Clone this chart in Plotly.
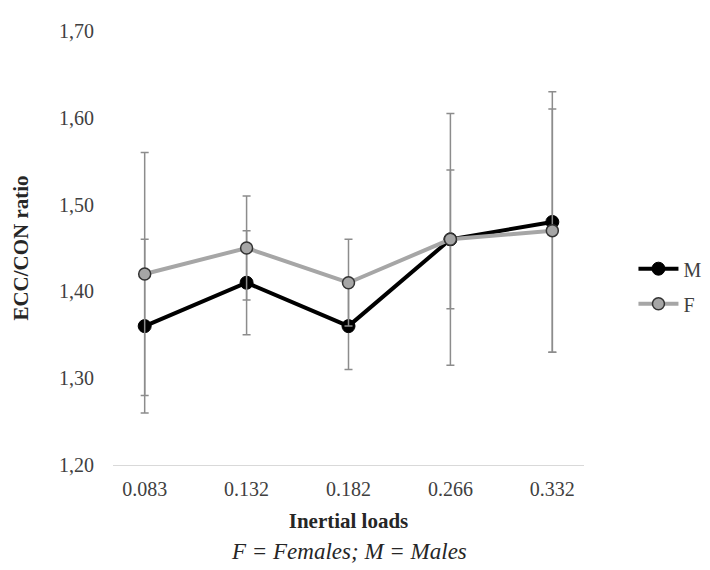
import plotly.graph_objects as go

categories = ["0.083", "0.132", "0.182", "0.266", "0.332"]
male_values = [1.36, 1.41, 1.36, 1.46, 1.48]
male_errors = [0.10, 0.06, 0.05, 0.08, 0.15]
female_values = [1.42, 1.45, 1.41, 1.46, 1.47]
female_errors = [0.14, 0.06, 0.05, 0.145, 0.14]
y_ticks = [1.20, 1.30, 1.40, 1.50, 1.60, 1.70]

SERIF = "Liberation Serif, Times New Roman, serif"
ERR_COLOR = "#8c8c8c"

fig = go.Figure()
fig.add_trace(go.Scatter(
    x=categories, y=male_values, name="M", mode="lines+markers",
    line=dict(color="#000000", width=4),
    marker=dict(size=13, color="#000000", line=dict(color="#000000", width=1)),
    error_y=dict(type="data", array=male_errors, visible=True,
                 color=ERR_COLOR, thickness=1.5, width=4),
    legendgroup="m",
))
fig.add_trace(go.Scatter(
    x=categories, y=female_values, name="F", mode="lines+markers",
    line=dict(color="#a6a6a6", width=4),
    marker=dict(size=12, color="#a6a6a6", line=dict(color="#333333", width=1.5)),
    error_y=dict(type="data", array=female_errors, visible=True,
                 color=ERR_COLOR, thickness=1.5, width=4),
    legendgroup="f",
))

fig.update_layout(
    width=710, height=570,
    margin=dict(l=102, r=127, t=13, b=113),
    paper_bgcolor="white", plot_bgcolor="white",
    separators=", ",
    font=dict(family=SERIF, size=20, color="#404040"),
    showlegend=True,
    legend=dict(x=1.105, y=0.412, xanchor="left", yanchor="middle",
                font=dict(family=SERIF, size=20, color="#404040"),
                tracegroupgap=6, itemwidth=40, bgcolor="rgba(0,0,0,0)"),
    xaxis=dict(
        type="category", showgrid=False, showline=True,
        linecolor="#d9d9d9", linewidth=1, ticks="", zeroline=False,
        tickfont=dict(family=SERIF, size=20, color="#404040"),
        ticklabelstandoff=6,
        title=dict(text="<b>Inertial loads</b>", standoff=14,
                   font=dict(family=SERIF, size=21, color="#262626")),
    ),
    yaxis=dict(
        range=[1.20, 1.70], tickvals=y_ticks, tickformat=".2f",
        showgrid=False, showline=False, zeroline=False, ticks="",
        tickfont=dict(family=SERIF, size=20, color="#404040"),
        ticklabelstandoff=18,
        title=dict(text="<b>ECC/CON ratio</b>", standoff=24,
                   font=dict(family=SERIF, size=21, color="#262626")),
    ),
    annotations=[dict(
        text="<i>F = Females; M = Males</i>", xref="paper", yref="paper",
        x=0.5, y=-0.2, xanchor="center", yanchor="middle", showarrow=False,
        font=dict(family=SERIF, size=23, color="#262626"),
    )],
)

fig.write_html("out.html")
